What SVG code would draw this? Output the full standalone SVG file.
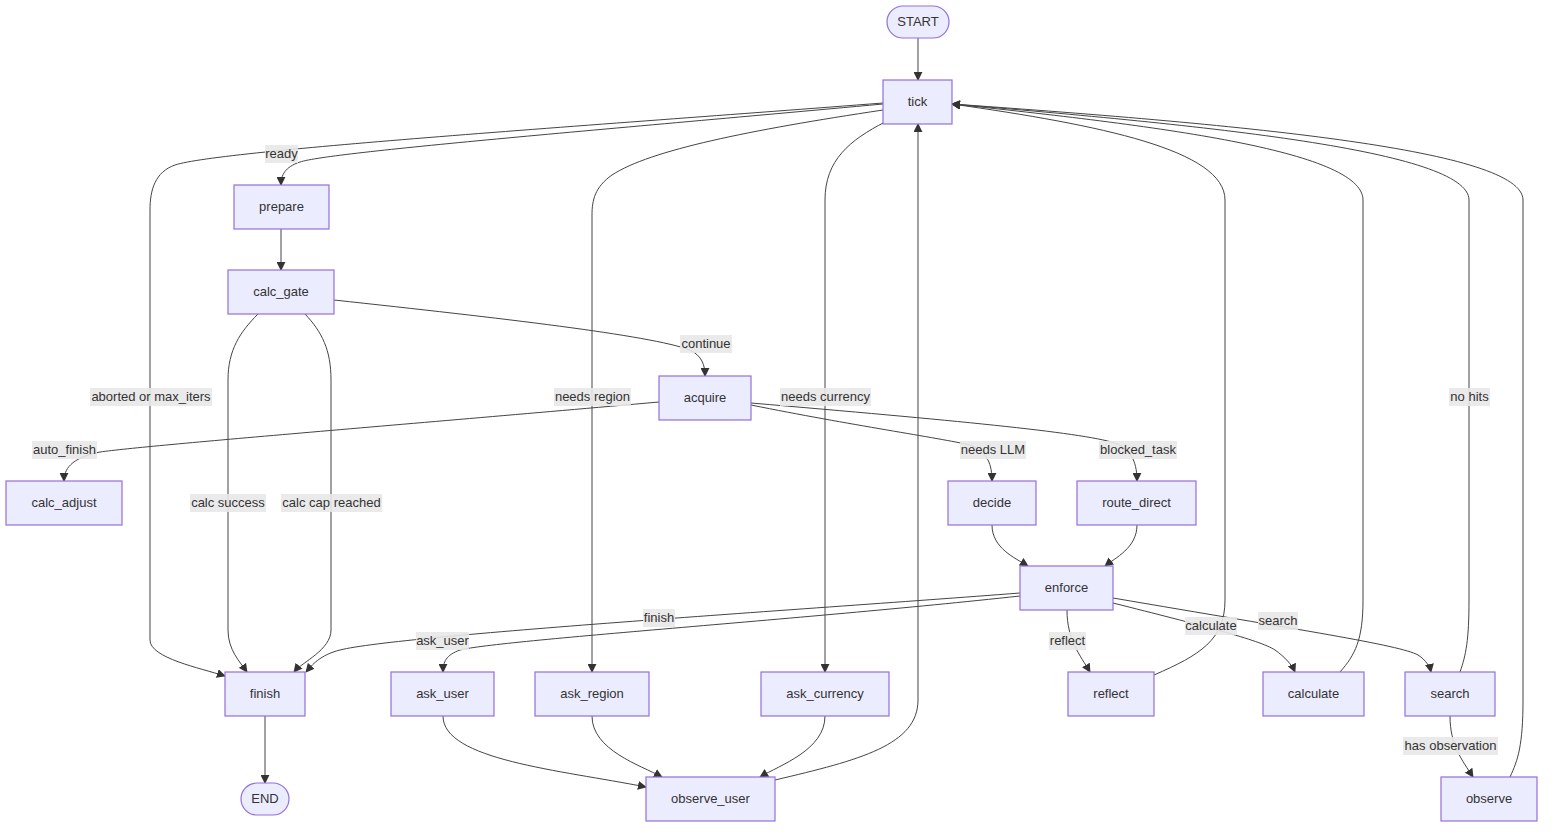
<svg xmlns="http://www.w3.org/2000/svg" width="1560" height="837" viewBox="0 0 1560 837">
<defs>
<marker id="arr" viewBox="0 0 10 10" refX="9" refY="5" markerWidth="9" markerHeight="9" markerUnits="userSpaceOnUse" orient="auto">
<path d="M0,0 L10,5 L0,10 z" fill="#333"/>
</marker>
<style>
.node rect{fill:#ECECFF;stroke:#9370DB;stroke-width:1.2}
.node text{font-family:"Liberation Sans",Arial,sans-serif;font-size:13px;fill:#333;text-anchor:middle;dominant-baseline:central}
.edges path{fill:none;stroke:#444;stroke-width:1;marker-end:url(#arr)}
.lbl rect{fill:#e8e8e8;opacity:0.9}
.lbl text{font-family:"Liberation Sans",Arial,sans-serif;font-size:13px;fill:#333;text-anchor:middle;dominant-baseline:central}
</style>
</defs>
<rect width="1560" height="837" fill="#fff"/>
<g class="edges" id="connectors">
<path d="M918,38 L918,80"/>
<path d="M883,104 C600,130 330,152 300,162 C285,167 281,175 281,185"/>
<path d="M883,103 C600,125 220,150 175,165 C155,172 150,190 150,210 L150,640 C150,658 200,668 225,676"/>
<path d="M883,110 C750,130 650,150 612,175 C595,187 592,200 592,215 L592,672"/>
<path d="M885,122 C850,140 825,160 825,200 L825,672"/>
<path d="M281,229 L281,270"/>
<path d="M334,300 C500,318 650,335 690,350 C702,356 705,365 705,376"/>
<path d="M258,314 C240,332 228,350 228,380 L228,630 C228,650 240,662 247,672"/>
<path d="M305,314 C322,332 331,350 331,380 L331,630 C331,650 302,662 294,672"/>
<path d="M659,402 C400,425 150,445 100,452 C70,458 64,470 64,481"/>
<path d="M751,405 C850,425 940,438 970,445 C988,452 992,465 992,481"/>
<path d="M751,403 C950,420 1080,432 1115,443 C1133,450 1137,465 1137,481"/>
<path d="M992,525 C992,548 1015,558 1028,566"/>
<path d="M1137,525 C1137,548 1115,558 1105,566"/>
<path d="M1020,593 C800,610 400,635 340,650 C320,655 312,665 306,672"/>
<path d="M1020,596 C800,620 500,640 460,650 C446,655 443,662 443,672"/>
<path d="M1067,610 C1067,640 1080,655 1090,672"/>
<path d="M1113,603 C1200,625 1260,640 1275,650 C1285,657 1292,665 1295,672"/>
<path d="M1113,598 C1300,630 1400,645 1418,655 C1426,660 1430,667 1431,672"/>
<path d="M1154,675 C1200,655 1225,640 1225,600 L1225,200 C1225,150 1100,125 952,104"/>
<path d="M1340,672 C1355,655 1363,640 1363,600 L1363,200 C1363,150 1150,125 952,104"/>
<path d="M1460,672 C1466,655 1469,640 1469,600 L1469,200 C1469,150 1200,125 952,104"/>
<path d="M1450,716 C1450,745 1462,760 1473,777"/>
<path d="M1510,777 C1518,760 1523,745 1523,700 L1523,200 C1523,150 1250,125 952,104"/>
<path d="M443,716 C443,760 560,770 646,787"/>
<path d="M592,716 C592,750 640,765 662,777"/>
<path d="M825,716 C825,750 780,765 760,777"/>
<path d="M775,780 C860,760 918,745 918,700 L918,124"/>
<path d="M265,716 L265,783"/>
</g>
<g id="edge-labels">
<g class="lbl"><rect x="265" y="145" width="33" height="18"/><text x="281.5" y="153">ready</text></g>
<g class="lbl"><rect x="90" y="388" width="122" height="18"/><text x="151" y="396">aborted or max_iters</text></g>
<g class="lbl"><rect x="554" y="388" width="77" height="18"/><text x="592.5" y="396">needs region</text></g>
<g class="lbl"><rect x="780" y="388" width="91" height="18"/><text x="825.5" y="396">needs currency</text></g>
<g class="lbl"><rect x="680" y="335" width="52" height="18"/><text x="706" y="343">continue</text></g>
<g class="lbl"><rect x="32" y="441" width="65" height="18"/><text x="64.5" y="449">auto_finish</text></g>
<g class="lbl"><rect x="190" y="494" width="76" height="18"/><text x="228" y="502">calc success</text></g>
<g class="lbl"><rect x="281" y="494" width="101" height="18"/><text x="331.5" y="502">calc cap reached</text></g>
<g class="lbl"><rect x="960" y="441" width="66" height="18"/><text x="993" y="449">needs LLM</text></g>
<g class="lbl"><rect x="1099" y="441" width="78" height="18"/><text x="1138" y="449">blocked_task</text></g>
<g class="lbl"><rect x="643" y="609" width="32" height="18"/><text x="659" y="617">finish</text></g>
<g class="lbl"><rect x="416" y="632" width="53" height="18"/><text x="442.5" y="640">ask_user</text></g>
<g class="lbl"><rect x="1049" y="632" width="37" height="18"/><text x="1067.5" y="640">reflect</text></g>
<g class="lbl"><rect x="1185" y="617" width="52" height="18"/><text x="1211" y="625">calculate</text></g>
<g class="lbl"><rect x="1258" y="612" width="40" height="18"/><text x="1278" y="620">search</text></g>
<g class="lbl"><rect x="1403" y="737" width="95" height="18"/><text x="1450.5" y="745">has observation</text></g>
<g class="lbl"><rect x="1449" y="388" width="41" height="18"/><text x="1469.5" y="396">no hits</text></g>
</g>
<g id="START" class="node"><rect x="887" y="6" width="62" height="32" rx="16"/><text x="918" y="21">START</text></g>
<g id="tick" class="node"><rect x="883" y="80" width="69" height="44"/><text x="917.5" y="101">tick</text></g>
<g id="prepare" class="node"><rect x="234" y="185" width="95" height="44"/><text x="281.5" y="206">prepare</text></g>
<g id="calc_gate" class="node"><rect x="228" y="270" width="106" height="44"/><text x="281" y="291">calc_gate</text></g>
<g id="acquire" class="node"><rect x="659" y="376" width="92" height="44"/><text x="705" y="397">acquire</text></g>
<g id="calc_adjust" class="node"><rect x="6" y="481" width="116" height="44"/><text x="64" y="502">calc_adjust</text></g>
<g id="decide" class="node"><rect x="948" y="481" width="88" height="44"/><text x="992" y="502">decide</text></g>
<g id="route_direct" class="node"><rect x="1077" y="481" width="119" height="44"/><text x="1136.5" y="502">route_direct</text></g>
<g id="enforce" class="node"><rect x="1020" y="566" width="93" height="44"/><text x="1066.5" y="587">enforce</text></g>
<g id="finish" class="node"><rect x="225" y="672" width="80" height="44"/><text x="265" y="693">finish</text></g>
<g id="ask_user" class="node"><rect x="391" y="672" width="103" height="44"/><text x="442.5" y="693">ask_user</text></g>
<g id="ask_region" class="node"><rect x="535" y="672" width="114" height="44"/><text x="592" y="693">ask_region</text></g>
<g id="ask_currency" class="node"><rect x="761" y="672" width="128" height="44"/><text x="825" y="693">ask_currency</text></g>
<g id="reflect" class="node"><rect x="1068" y="672" width="86" height="44"/><text x="1111" y="693">reflect</text></g>
<g id="calculate" class="node"><rect x="1263" y="672" width="101" height="44"/><text x="1313.5" y="693">calculate</text></g>
<g id="search" class="node"><rect x="1405" y="672" width="90" height="44"/><text x="1450" y="693">search</text></g>
<g id="END" class="node"><rect x="241" y="783" width="48" height="32" rx="16"/><text x="265" y="798">END</text></g>
<g id="observe_user" class="node"><rect x="646" y="777" width="129" height="44"/><text x="710.5" y="798">observe_user</text></g>
<g id="observe" class="node"><rect x="1441" y="777" width="96" height="44"/><text x="1489" y="798">observe</text></g>
</svg>
